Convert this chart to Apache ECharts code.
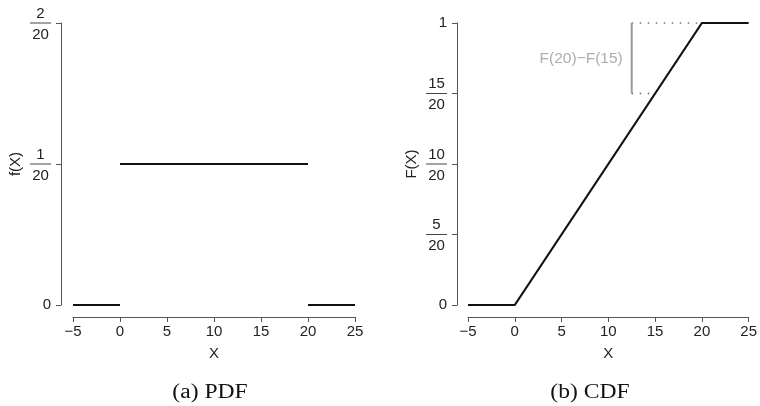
<!DOCTYPE html>
<html>
<head>
<meta charset="utf-8">
<script src="https://cdn.jsdelivr.net/npm/echarts@6/dist/echarts.min.js"></script>
<style>html,body{margin:0;padding:0;background:#fff}#c{width:760px;height:406px}</style>
</head>
<body>
<div id="c"></div>
<script>
// ---- data ----
var xTicks = [-5, 0, 5, 10, 15, 20, 25];
// PDF: piecewise constant segments
var pdfSegStart = [-5, 0, 20];
var pdfSegEnd = [0, 20, 25];
var pdfSegValue = [0, 0.05, 0];
var pdfYTicks = [0, 0.05, 0.1];
var pdfYLabels = [['0'], ['1', '20'], ['2', '20']];
// CDF: piecewise linear
var cdfX = [-5, 0, 20, 25];
var cdfY = [0, 0, 1, 1];
var cdfYTicks = [0, 0.25, 0.5, 0.75, 1];
var cdfYLabels = [['0'], ['5', '20'], ['10', '20'], ['15', '20'], ['1']];
// annotation F(20)-F(15)
var annotX = 12.5;
var annotFrom = [15, 20];
var annotLow = 0.75;
var annotHigh = 1;
var annotText = 'F(20)\u2212F(15)';
var captions = ['(a) PDF', '(b) CDF'];
var axisNamesY = ['f(X)', 'F(X)'];
var axisNameX = 'X';

// ---- chart ----
var FONT = '"Liberation Sans", Arial, sans-serif';
var AXC = '#555';
var TXC = '#222';
var FS = 15;

function fracFormatter(labels) {
  return function (v, i) {
    var l = labels[i];
    if (!l) return '';
    if (l.length === 1) return '{s|' + l[0] + '}';
    return '{sp| }\n{n|' + l[0] + '}\n{l| }\n{d|' + l[1] + '}';
  };
}
var rich = {
  s: { fontSize: FS, fontFamily: FONT, color: TXC },
  sp: { fontSize: 1, lineHeight: 4, width: 21 },
  n: { fontSize: FS, fontFamily: FONT, color: TXC, width: 21, align: 'center', lineHeight: 16 },
  l: { width: 21, height: 1, lineHeight: 3, backgroundColor: '#444', fontSize: 1 },
  d: { fontSize: FS, fontFamily: FONT, color: TXC, width: 21, align: 'center', lineHeight: 20 }
};

function xAxisDef(gi) {
  return {
    gridIndex: gi, type: 'value', min: -5, max: 25, interval: 5, offset: 12,
    name: axisNameX, nameLocation: 'middle', nameGap: 29,
    nameTextStyle: { fontSize: FS, fontFamily: FONT, color: TXC },
    axisLine: { show: true, onZero: false, lineStyle: { color: AXC, width: 1 } },
    axisTick: { show: true, length: 5, lineStyle: { color: AXC } },
    axisLabel: { fontSize: FS, fontFamily: FONT, color: TXC, margin: 7,
      formatter: function (v) { return v < 0 ? '\u2212' + (-v) : String(v); } },
    splitLine: { show: false }
  };
}
function yAxisDef(gi, max, interval, labels, off) {
  return {
    gridIndex: gi, type: 'value', min: 0, max: max, interval: interval, offset: off,
    name: axisNamesY[gi], nameLocation: 'middle', nameGap: 38,
    nameTextStyle: { fontSize: FS, fontFamily: FONT, color: TXC },
    axisLine: { show: true, onZero: false, lineStyle: { color: AXC, width: 1 } },
    axisTick: { show: true, length: 5, lineStyle: { color: AXC } },
    axisLabel: { margin: 10, formatter: fracFormatter(labels), rich: rich },
    splitLine: { show: false }
  };
}

var series = [];
for (var k = 0; k < pdfSegStart.length; k++) {
  series.push({
    type: 'line', xAxisIndex: 0, yAxisIndex: 0, symbol: 'none', silent: true,
    lineStyle: { color: '#111', width: 2.2 },
    data: [[pdfSegStart[k], pdfSegValue[k]], [pdfSegEnd[k], pdfSegValue[k]]]
  });
}
series.push({
  type: 'line', xAxisIndex: 1, yAxisIndex: 1, symbol: 'none', silent: true,
  lineStyle: { color: '#111', width: 2.2 },
  data: cdfX.map(function (x, i) { return [x, cdfY[i]]; })
});
// dotted guides
series.push({
  type: 'line', xAxisIndex: 1, yAxisIndex: 1, symbol: 'none', silent: true, z: 1,
  lineStyle: { color: '#666', width: 1.5, type: [1.5, 6.5] },
  data: [[annotX, annotHigh], [annotFrom[1], annotHigh]]
});
series.push({
  type: 'line', xAxisIndex: 1, yAxisIndex: 1, symbol: 'none', silent: true, z: 1,
  lineStyle: { color: '#666', width: 1.5, type: [1.5, 6.5] },
  data: [[annotX, annotLow], [annotFrom[0], annotLow]]
});
// vertical gray bracket
series.push({
  type: 'line', xAxisIndex: 1, yAxisIndex: 1, symbol: 'none', silent: true,
  lineStyle: { color: '#999', width: 2 },
  data: [[annotX, annotLow], [annotX, annotHigh]]
});
series.push({
  type: 'scatter', xAxisIndex: 1, yAxisIndex: 1, symbolSize: 0, silent: true,
  data: [[annotX, (annotLow + annotHigh) / 2]],
  label: { show: true, position: 'left', distance: 9, formatter: annotText,
    fontSize: 15.5, fontFamily: FONT, color: '#999' }
});

var option = {
  animation: false,
  backgroundColor: '#fff',
  grid: [
    { left: 73, top: 23, width: 282, height: 282 },
    { left: 468, top: 23, width: 283, height: 282 }
  ],
  xAxis: [xAxisDef(0), xAxisDef(1)],
  yAxis: [yAxisDef(0, 0.1, 0.05, pdfYLabels, 12), yAxisDef(1, 1, 0.25, cdfYLabels, 11)],
  series: series,
  graphic: [
    { type: 'text', x: 210, y: 393, scaleX: 1.18, style: { text: captions[0], font: '20px "Liberation Serif", "Times New Roman", serif', fill: '#111', align: 'center', verticalAlign: 'middle' } },
    { type: 'text', x: 590, y: 393, scaleX: 1.18, style: { text: captions[1], font: '20px "Liberation Serif", "Times New Roman", serif', fill: '#111', align: 'center', verticalAlign: 'middle' } }
  ]
};
var chart = echarts.init(document.getElementById('c'), null, { renderer: 'canvas' });
chart.setOption(option);
</script>
</body>
</html>
